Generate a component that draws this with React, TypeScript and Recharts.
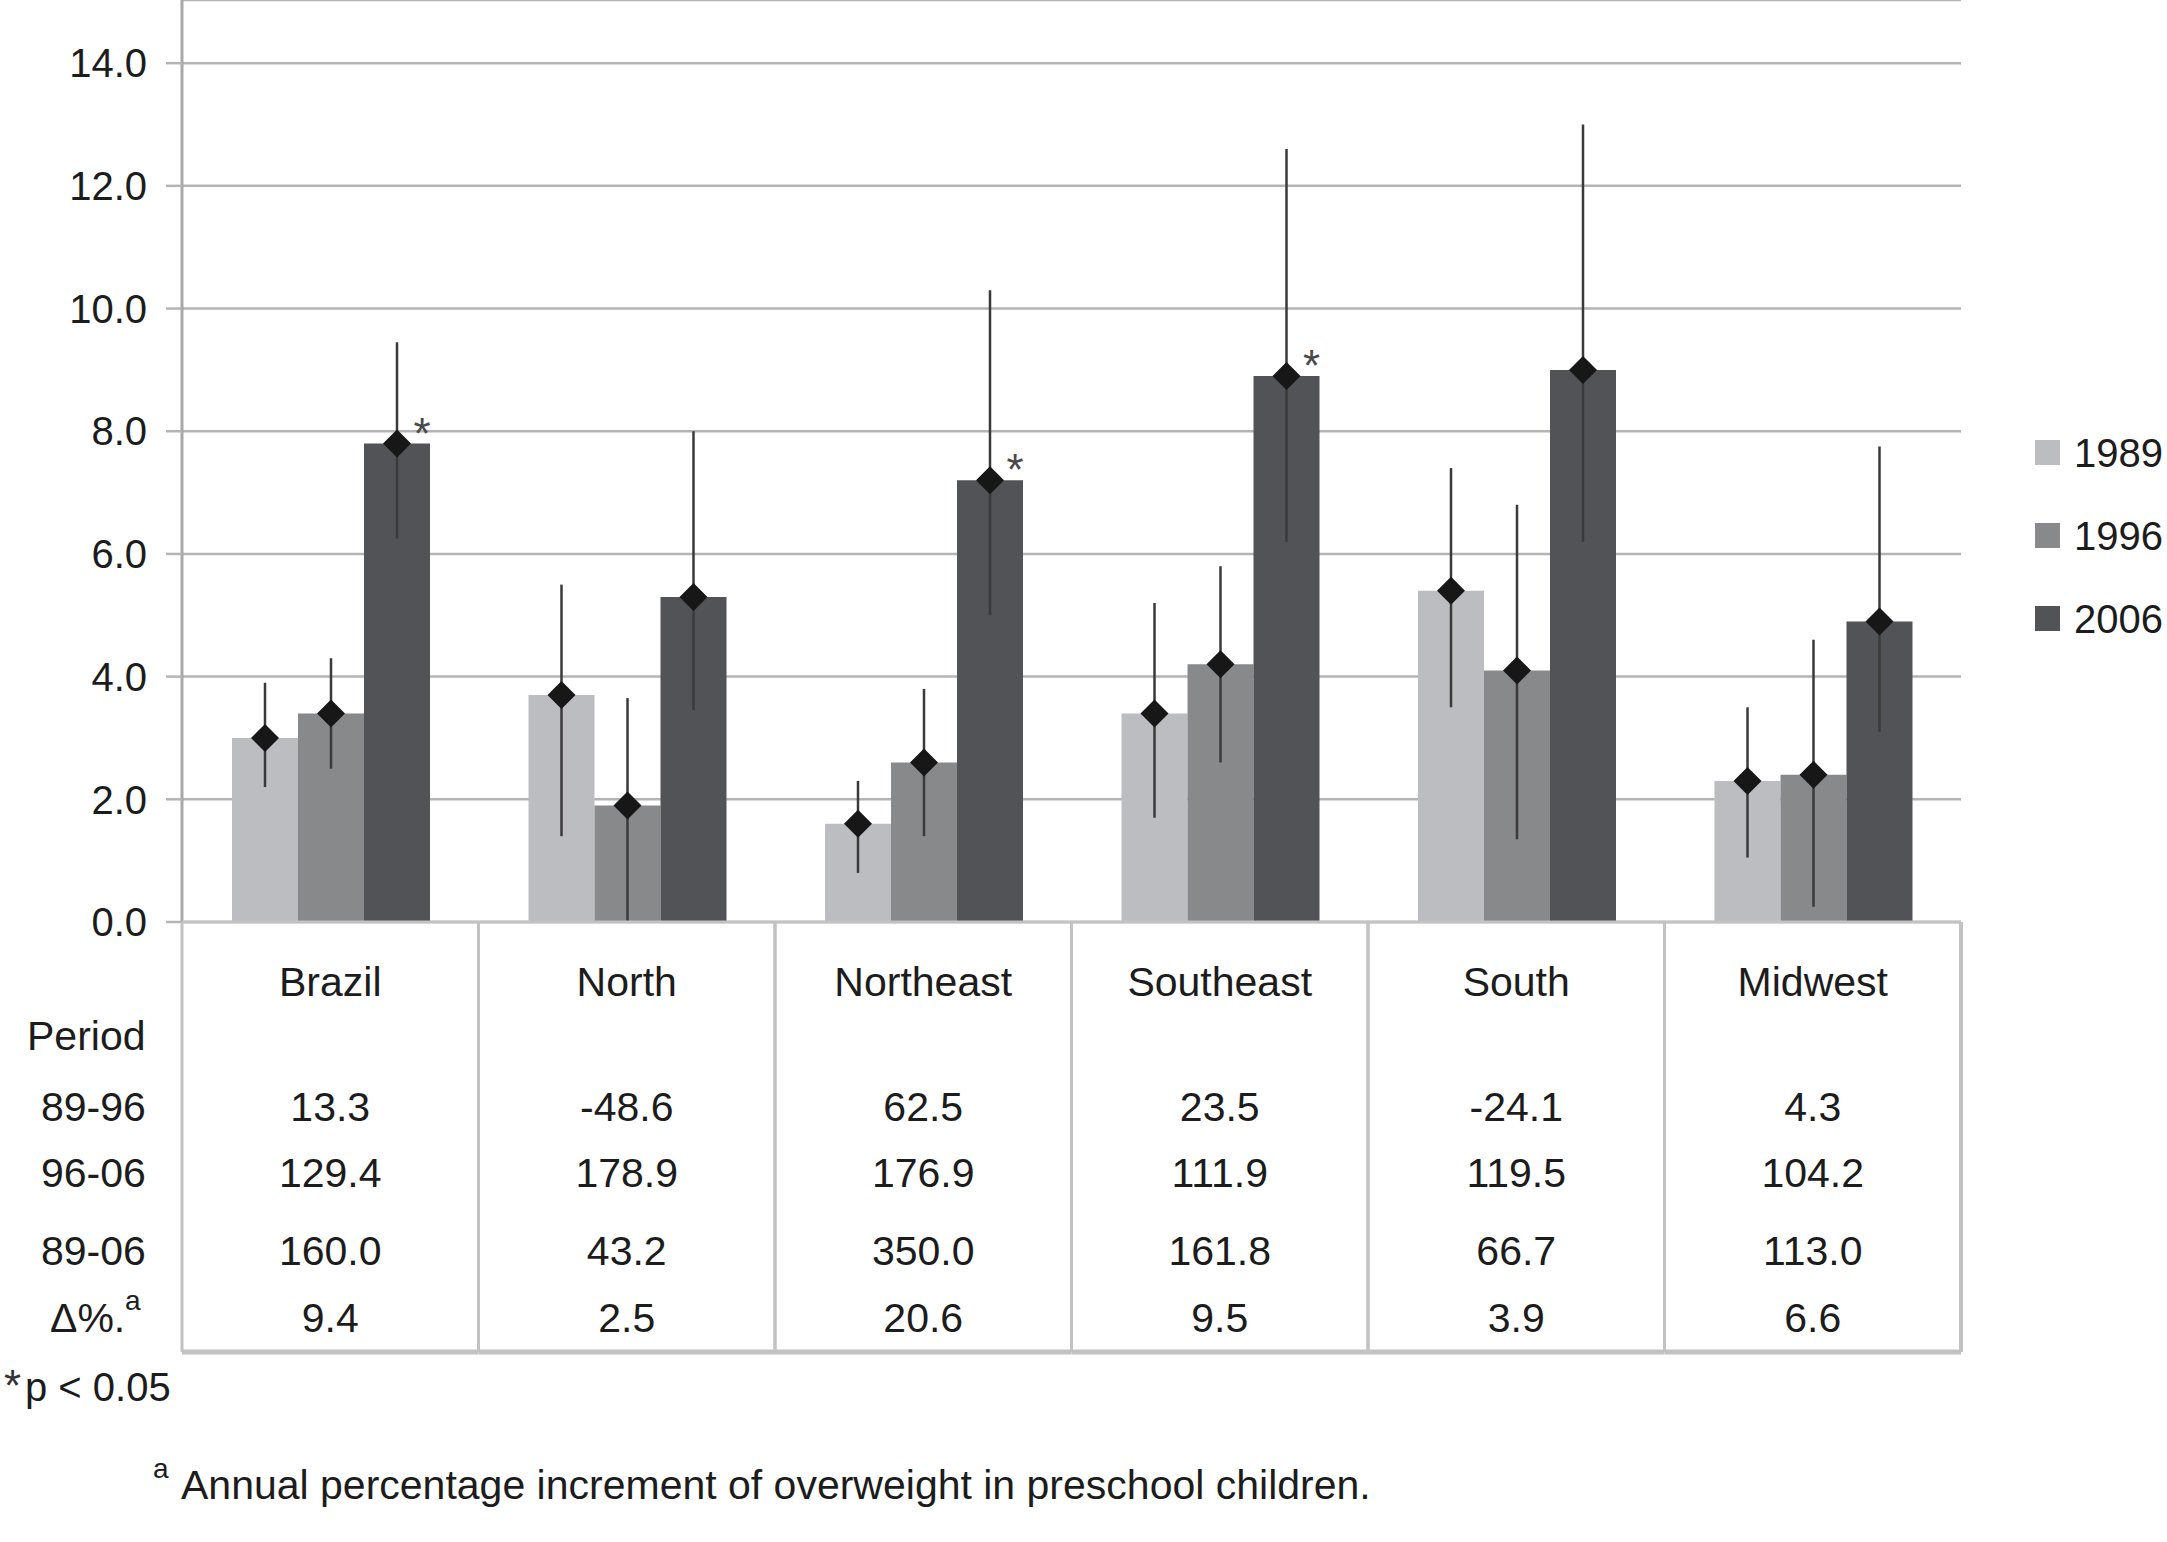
import React from 'react';
import { BarChart, Bar, XAxis, YAxis, CartesianGrid, ErrorBar, LabelList, Legend } from 'recharts';

// prevalence of overweight (%) by region and survey year
const regions = ['Brazil', 'North', 'Northeast', 'Southeast', 'South', 'Midwest'];
const years = ['1989', '1996', '2006'];
const colors = ['#bcbdc0', '#88898b', '#525356'];

const prev1989 = [3.0, 3.7, 1.6, 3.4, 5.4, 2.3];
const prev1996 = [3.4, 1.9, 2.6, 4.2, 4.1, 2.4];
const prev2006 = [7.8, 5.3, 7.2, 8.9, 9.0, 4.9];

// 95% CI [low, high]
const ci1989 = [[2.2, 3.9], [1.4, 5.5], [0.8, 2.3], [1.7, 5.2], [3.5, 7.4], [1.05, 3.5]];
const ci1996 = [[2.5, 4.3], [0, 3.65], [1.4, 3.8], [2.6, 5.8], [1.35, 6.8], [0.25, 4.6]];
const ci2006 = [[6.25, 9.45], [3.45, 8.0], [5.0, 10.3], [6.2, 12.6], [6.2, 13.0], [3.1, 7.75]];
const signif2006 = ['*', '', '*', '*', '', ''];

// table rows (% change)
const change89_96 = [13.3, -48.6, 62.5, 23.5, -24.1, 4.3];
const change96_06 = [129.4, 178.9, 176.9, 111.9, 119.5, 104.2];
const change89_06 = [160.0, 43.2, 350.0, 161.8, 66.7, 113.0];
const annualDelta = [9.4, 2.5, 20.6, 9.5, 3.9, 6.6];

const yTicks = [0, 2, 4, 6, 8, 10, 12, 14];

const W = 2167;
const H = 1542;
const PLOT_LEFT = 182;
const PLOT_RIGHT = 1961;
const TABLE_TOP = 922;
const TABLE_BOTTOM = 1352;
const BAND = (PLOT_RIGHT - PLOT_LEFT) / regions.length;
const FONT = '"Liberation Sans", Arial, Helvetica, sans-serif';
const TEXT = '#1c1c1c';
const GRID = '#b4b4b4';
const BORDER = '#c2c2c2';

const series = [prev1989, prev1996, prev2006];
const cis = [ci1989, ci1996, ci2006];

const data = regions.map((region, i) => {
  const row: any = { region, sig: signif2006[i] };
  years.forEach((yr, s) => {
    const v = series[s][i];
    row['y' + yr] = v;
    row['e' + yr] = [v - cis[s][i][0], cis[s][i][1] - v];
  });
  return row;
});

const Diamond = (props: any) => {
  const cx = Number(props.x) + Number(props.width) / 2;
  const cy = Number(props.y);
  const r = 14;
  return <polygon points={`${cx},${cy - r} ${cx + r},${cy} ${cx},${cy + r} ${cx - r},${cy}`} fill="#171717" />;
};

const Star = (props: any) => {
  if (!props.value) return null;
  const cx = Number(props.x) + Number(props.width) / 2 + 25;
  return (
    <text x={cx} y={Number(props.y) + 5} textAnchor="middle" fontSize={44} fill="#4a4a4a">
      {props.value}
    </text>
  );
};

const rowValues = [change89_96, change96_06, change89_06, annualDelta];
const rowBase = [1121, 1187, 1265, 1332];

const TableTick = (props: any) => {
  const { x, payload } = props;
  const i = regions.indexOf(payload.value);
  const half = BAND / 2;
  return (
    <g fontFamily={FONT}>
      <line x1={x - half} x2={x - half} y1={TABLE_TOP} y2={TABLE_BOTTOM} stroke={BORDER} strokeWidth={3} />
      <line x1={x + half} x2={x + half} y1={TABLE_TOP} y2={TABLE_BOTTOM} stroke={BORDER} strokeWidth={i === regions.length - 1 ? 4 : 3} />
      <line x1={x - half} x2={x + half} y1={TABLE_BOTTOM} y2={TABLE_BOTTOM} stroke={BORDER} strokeWidth={5} />
      <text x={x} y={996} textAnchor="middle" fontSize={41} fill={TEXT}>{payload.value}</text>
      {rowValues.map((r, k) => (
        <text key={k} x={x} y={rowBase[k]} textAnchor="middle" fontSize={41} fill={TEXT}>
          {r[i].toFixed(1)}
        </text>
      ))}
      {i === 0 && (
        <g fontSize={41} fill={TEXT}>
          <text x={27} y={1050}>Period</text>
          <text x={41} y={1121}>89-96</text>
          <text x={41} y={1187}>96-06</text>
          <text x={41} y={1265}>89-06</text>
          <text x={50} y={1332}>
            Δ%.<tspan x={125} dy={-22} fontSize={28}>a</tspan>
          </text>
        </g>
      )}
    </g>
  );
};

const LegendBox = () => (
  <div style={{ fontFamily: FONT }}>
    {years.map((yr, i) => (
      <div key={yr} style={{ display: 'flex', alignItems: 'center', height: 83 }}>
        <div style={{ width: 25, height: 25, background: colors[i] }} />
        <span style={{ marginLeft: 14, fontSize: 40, lineHeight: '40px', color: TEXT }}>{yr}</span>
      </div>
    ))}
  </div>
);

export default function App() {
  return (
    <div style={{ position: 'absolute', left: 0, top: 0, width: W, height: H, background: '#fff', fontFamily: FONT }}>
      <BarChart
        width={W}
        height={TABLE_BOTTOM + 8}
        data={data}
        margin={{ top: 0, right: W - PLOT_RIGHT, left: 0, bottom: 8 }}
        barCategoryGap={50}
        barGap={0}
      >
        <CartesianGrid vertical={false} stroke={GRID} strokeWidth={2.5} />
        <YAxis
          width={PLOT_LEFT}
          domain={[0, 15.03]}
          ticks={yTicks}
          allowDataOverflow
          tickFormatter={(v: number) => v.toFixed(1)}
          tick={{ fontSize: 40, fill: TEXT, fontFamily: FONT }}
          tickSize={16}
          tickMargin={19}
          tickLine={{ stroke: GRID, strokeWidth: 2.5 }}
          axisLine={{ stroke: '#a8a8a8', strokeWidth: 3 }}
        />
        <XAxis
          dataKey="region"
          height={TABLE_BOTTOM - TABLE_TOP}
          interval={0}
          tickLine={false}
          axisLine={{ stroke: BORDER, strokeWidth: 3 }}
          tick={<TableTick />}
        />
        <Legend
          layout="vertical"
          align="center"
          verticalAlign="middle"
          content={<LegendBox />}
          wrapperStyle={{ left: 2035, top: 411, width: 132, height: 249 }}
        />
        {years.map((yr, s) => (
          <Bar key={yr} dataKey={'y' + yr} name={yr} fill={colors[s]} isAnimationActive={false}>
            <ErrorBar dataKey={'e' + yr} width={0} stroke="#3a3a3a" strokeWidth={2.5} isAnimationActive={false} />
            <LabelList dataKey={'y' + yr} content={<Diamond />} />
            {yr === '2006' && <LabelList dataKey="sig" content={<Star />} />}
          </Bar>
        ))}
      </BarChart>
      <svg width={W} height={200} style={{ position: 'absolute', left: 0, top: 1342 }}>
        <g fontFamily={FONT} fill={TEXT}>
          <text x={4} y={1401 - 1342} fontSize={44} fill="#333">*</text>
          <text x={25} y={1401 - 1342} fontSize={40}>p &lt; 0.05</text>
          <text x={153} y={1478 - 1342} fontSize={28}>a</text>
          <text x={181} y={1499 - 1342} fontSize={41}>Annual percentage increment of overweight in preschool children.</text>
        </g>
      </svg>
    </div>
  );
}
